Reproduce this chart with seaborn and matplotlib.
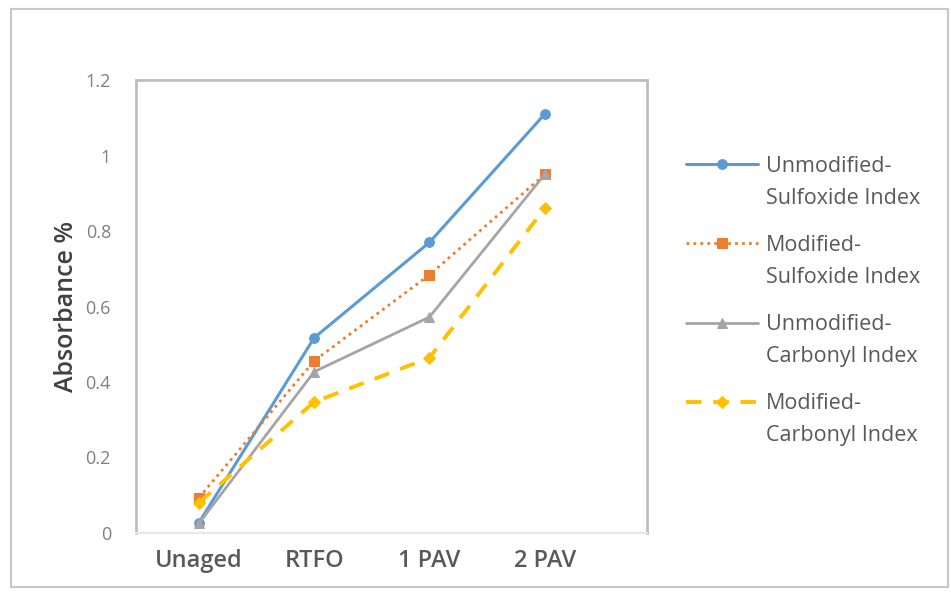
import matplotlib
matplotlib.use("Agg")
import matplotlib.pyplot as plt
import seaborn as sns
import pandas as pd
from matplotlib.patches import Rectangle
from matplotlib.legend_handler import HandlerLine2D

categories = ["Unaged", "RTFO", "1 PAV", "2 PAV"]
unmod_sulfoxide = [0.027, 0.517, 0.77, 1.11]
mod_sulfoxide = [0.093, 0.456, 0.684, 0.95]
unmod_carbonyl = [0.025, 0.427, 0.572, 0.95]
mod_carbonyl = [0.08, 0.347, 0.464, 0.86]
series_names = ["Unmodified-\nSulfoxide Index", "Modified-\nSulfoxide Index",
                "Unmodified-\nCarbonyl Index", "Modified-\nCarbonyl Index"]
yticks = [0, 0.2, 0.4, 0.6, 0.8, 1, 1.2]
ytick_labels = ["0", "0.2", "0.4", "0.6", "0.8", "1", "1.2"]

sns.set_theme(style="white")
plt.rcParams['font.family'] = ['Open Sans', 'DejaVu Sans']

fig = plt.figure(figsize=(9.51, 5.94), dpi=100)
ax = fig.add_axes([0.143, 0.103, 0.537, 0.762])

styles = [
    dict(color="#5B9BD5", linestyle="-", marker="o", markersize=7, linewidth=2.2),
    dict(color="#ED7D31", linestyle=(0, (1, 1.5)), marker="s", markersize=7.5, linewidth=2.0),
    dict(color="#A5A5A5", linestyle="-", marker="^", markersize=7, linewidth=2.0),
    dict(color="#FFC000", linestyle=(0, (4, 3)), marker="D", markersize=6.5, linewidth=2.8),
]
all_vals = [unmod_sulfoxide, mod_sulfoxide, unmod_carbonyl, mod_carbonyl]

for name, vals, st in zip(series_names, all_vals, styles):
    df = pd.DataFrame({"stage": categories, "value": vals})
    sns.lineplot(data=df, x="stage", y="value", ax=ax, sort=False, label=name,
                 color=st["color"], linestyle=st["linestyle"], marker=st["marker"],
                 markersize=st["markersize"], linewidth=st["linewidth"],
                 markeredgecolor=st["color"])

ax.set_xlim(-0.546, 3.885)
ax.set_ylim(0, 1.2)
ax.set_yticks(yticks)
ax.set_yticklabels(ytick_labels, fontsize=13, color="#808080")
ax.tick_params(axis="x", labelsize=17, colors="#595959", pad=12, length=0)
ax.tick_params(axis="y", length=0, pad=18)
for lab in ax.get_xticklabels():
    lab.set_fontweight("semibold")
ax.set_xlabel("")
ax.set_ylabel("Absorbance %", fontsize=18, color="#404040", fontweight="semibold", labelpad=5)

for side in ["left", "top", "right"]:
    ax.spines[side].set_color("#BFBFBF")
    ax.spines[side].set_linewidth(2)
ax.spines["bottom"].set_color("#E8E8E8")
ax.spines["bottom"].set_linewidth(1.5)


class HandlerTop(HandlerLine2D):
    def create_artists(self, legend, orig_handle, xdescent, ydescent,
                       width, height, fontsize, trans):
        return super().create_artists(legend, orig_handle, xdescent, ydescent - 27,
                                      width, height, fontsize, trans)


handles, labels = ax.get_legend_handles_labels()
leg = ax.legend(handles, labels, loc="upper left", bbox_to_anchor=(1.04, 0.875), frameon=False,
                fontsize=15.5, handlelength=3.3, labelspacing=1.2, handletextpad=0.4,
                handler_map={h: HandlerTop() for h in handles})
for t in leg.get_texts():
    t.set_color("#595959")
    t.set_linespacing(1.7)

fig.patches.append(Rectangle((0.012, 0.012), 0.985, 0.973, transform=fig.transFigure,
                             fill=False, edgecolor="#C8C8C8", linewidth=1.5))

fig.savefig("out.png", dpi=100)
